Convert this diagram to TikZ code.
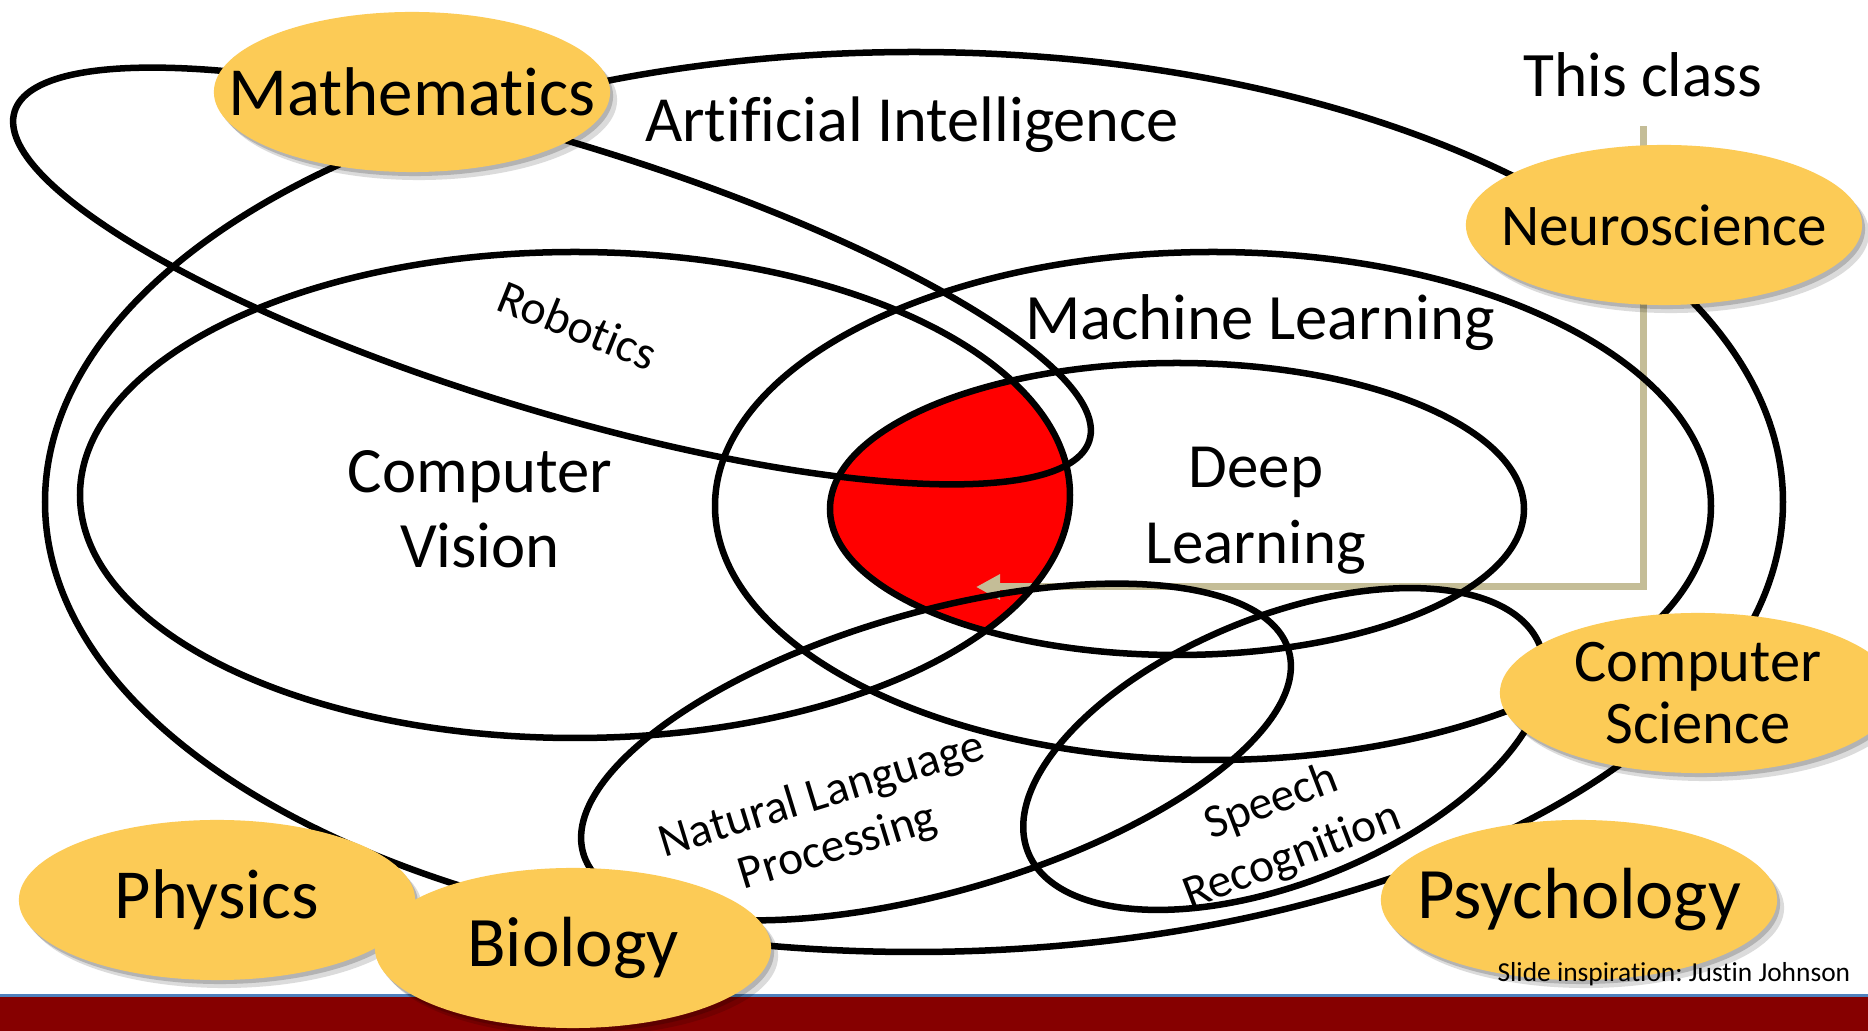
\documentclass[tikz,border=0pt]{standalone}
\usepackage{fontspec}
\setmainfont{Carlito}[Ligatures=NoCommon]
\usetikzlibrary{arrows.meta,shapes.geometric,shadows}
\definecolor{fieldyellow}{RGB}{252,203,86}
\definecolor{tanline}{RGB}{196,189,151}
\definecolor{barred}{RGB}{134,0,0}
\definecolor{barblue}{RGB}{79,129,189}
\frenchspacing
\begin{document}
\begin{tikzpicture}[x=0.01cm, y=-0.01cm,
  ring/.style={line width=0.065cm, draw=black},
  field/.style={ellipse, fill=fieldyellow, minimum width=3.96cm, minimum height=1.6cm,
     inner sep=0pt,
     drop shadow={shadow xshift=0.03cm, shadow yshift=-0.04cm, opacity=0.18, fill=black},
     drop shadow={shadow xshift=0.07cm, shadow yshift=-0.08cm, opacity=0.14, fill=black}},
  fieldtext/.style={inner sep=0pt, align=center},
  lbl/.style={inner sep=0pt, align=center},
  tanarrow/.style={draw=tanline, line width=0.07cm, -{Triangle[length=0.24cm,width=0.24cm]}}
]
\useasboundingbox (0,0) rectangle (1868,1031);
\fill[white] (0,0) rectangle (1868,1031);
% intersection of Computer Vision and Deep Learning
\begin{scope}
  \clip (1177,509) ellipse [x radius=347, y radius=146];
  \fill[red] (575,495) ellipse [x radius=495, y radius=243];
\end{scope}
% This class label and its connector
\node[lbl, anchor=base, font=\fontsize{18pt}{21pt}\selectfont] (thisclass) at (1643,97) {This class};
\coordinate (dltip) at (976,587);
\draw[tanarrow] ([yshift=-0.28cm]thisclass.south) |- (dltip);
% field rings
\draw[ring] (914,502) ellipse [x radius=869, y radius=450];
\draw[ring] (575,495) ellipse [x radius=495, y radius=243];
\draw[ring] (1213,506) ellipse [x radius=498, y radius=254];
\draw[ring] (1177,509) ellipse [x radius=347, y radius=146];
\draw[ring, rotate around={-17:(552,276)}] (552,276) ellipse [x radius=562, y radius=134];
\draw[ring, rotate around={16:(936,752)}] (936,752) ellipse [x radius=367, y radius=140];
\draw[ring, rotate around={22:(1284,749)}] (1284,749) ellipse [x radius=276, y radius=133];
% bottom bar
\fill[barred] (0,997) rectangle (1868,1031);
\draw[barblue, line width=0.03cm] (0,995.5) -- (1868,995.5);
% neighbouring disciplines
\node[field] (math) at (412,92) {};
\node[field] (neuro) at (1664,225) {};
\node[field] (cs) at (1698,693) {};
\node[field] (psych) at (1579,900) {};
\node[field] (phys) at (217,900) {};
\node[field] (bio) at (573,948) {};
\node[fieldtext, font=\fontsize{19.6pt}{24pt}\selectfont] (mathtext) at (math) {Mathematics};
\node[fieldtext, font=\fontsize{16.8pt}{21pt}\selectfont] (neurotext) at (neuro) {Neuroscience};
\node[fieldtext, font=\fontsize{17.2pt}{17.6pt}\selectfont] (cstext) at (cs) {Computer\\Science};
\node[fieldtext, font=\fontsize{20.6pt}{24pt}\selectfont] (psychtext) at (psych) {Psychology};
\node[fieldtext, font=\fontsize{20pt}{24pt}\selectfont] (phystext) at (phys) {Physics};
\node[fieldtext, font=\fontsize{20.2pt}{24pt}\selectfont] (biotext) at (bio) {Biology};
% ring labels
\node[lbl, anchor=base, font=\fontsize{18.3pt}{22pt}\selectfont] (ai) at (912,142) {Artificial Intelligence};
\node[lbl, anchor=base, font=\fontsize{18.4pt}{22pt}\selectfont] (ml) at (1260,340) {Machine Learning};
\node[lbl, font=\fontsize{18.4pt}{21.3pt}\selectfont] (cv) at (480,509) {Computer\\Vision};
\node[lbl, font=\fontsize{17.9pt}{21.6pt}\selectfont] (dl) at (1256,511) {Deep\\Learning};
\node[lbl, rotate=-22, font=\fontsize{13.6pt}{15pt}\selectfont] (rob) at (578,325) {Robotics};
\node[lbl, rotate=17, font=\fontsize{13.5pt}{15.5pt}\selectfont] (nlp) at (830,822) {Natural Language\\Processing};
\node[lbl, rotate=21, font=\fontsize{13.5pt}{16.5pt}\selectfont] (sr) at (1282,830) {Speech\\Recognition};
\node[lbl, anchor=base east, font=\fontsize{7.8pt}{9pt}\selectfont] (credit) at (1851,982) {Slide inspiration: Justin Johnson};
\end{tikzpicture}
\end{document}
